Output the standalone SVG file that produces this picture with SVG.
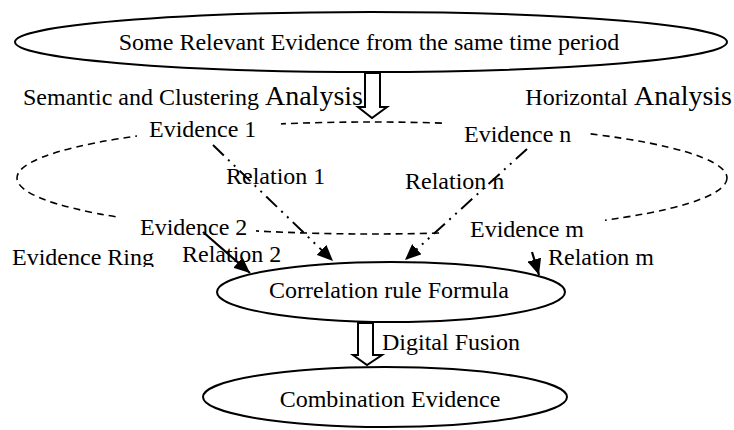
<svg xmlns="http://www.w3.org/2000/svg" width="734" height="430" viewBox="0 0 734 430">
<style>
text{font-family:"Liberation Serif","Times New Roman",serif;font-size:24px;fill:#000}
.big{font-size:28px}
.node{fill:#fff;stroke:#000;stroke-width:2}
.ring{fill:none;stroke:#000;stroke-width:1.6;stroke-dasharray:7 5}
.mask{fill:#fff}
.dd{fill:none;stroke:#000;stroke-width:2;stroke-dasharray:15 6 2 6 2 6}
.solid{fill:none;stroke:#000;stroke-width:2.2}
.hollow{fill:#fff;stroke:#000;stroke-width:2;stroke-linejoin:miter}
</style>
<defs>
<marker id="ah" markerUnits="userSpaceOnUse" markerWidth="18" markerHeight="14" refX="16" refY="7" orient="auto">
<path d="M0,0 L16,7 L0,14 Z" fill="#000"/>
</marker>
<clipPath id="ringclip"><rect x="0" y="230" width="200" height="37"/></clipPath>
</defs>
<g id="source">
<ellipse class="node" cx="371" cy="42" rx="356" ry="30"/>
<text x="369" y="50" text-anchor="middle">Some Relevant Evidence from the same time period</text>
</g>
<g id="ring">
<ellipse class="ring" cx="372" cy="178" rx="355" ry="56"/>
<rect class="mask" x="137" y="110" width="144" height="36"/>
<rect class="mask" x="443" y="110" width="146" height="38"/>
<rect class="mask" x="120" y="206" width="136" height="36"/>
<rect class="mask" x="440" y="208" width="165" height="36"/>
</g>
<g id="labels">
<text x="23" y="105">Semantic and Clustering <tspan class="big">Analysis</tspan></text>
<text x="732" y="105" text-anchor="end">Horizontal <tspan class="big">Analysis</tspan></text>
<text x="12" y="265" clip-path="url(#ringclip)">Evidence Ring</text>
<text x="382" y="350">Digital Fusion</text>
</g>
<g id="evidence1"><text x="149" y="137">Evidence 1</text></g>
<g id="evidencen"><text x="464" y="142">Evidence n</text></g>
<g id="evidence2"><text x="140" y="235">Evidence 2</text></g>
<g id="evidencem"><text x="470" y="237">Evidence m</text></g>
<g id="correlation">
<ellipse class="node" cx="391" cy="292" rx="174" ry="30"/>
<text x="389" y="298" text-anchor="middle">Correlation rule Formula</text>
</g>
<g id="combination">
<ellipse class="node" cx="385" cy="397" rx="182" ry="30"/>
<text x="390" y="407" text-anchor="middle">Combination Evidence</text>
</g>
<g id="relation-labels">
<text x="226" y="184">Relation 1</text>
<text x="405" y="189">Relation n</text>
<text x="182" y="262">Relation 2</text>
<text x="548" y="265">Relation m</text>
</g>
<g id="connectors">
<polygon class="hollow" points="365,73 380,73 380,107 387,107 372,118 358,107 365,107"/>
<polygon class="hollow" points="358,323 373,323 373,355 382,355 367,365 353,355 358,355"/>
<path class="dd" d="M213,145 L333,261" marker-end="url(#ah)"/>
<path class="dd" d="M527,149 L405,260" marker-end="url(#ah)"/>
<path class="solid" d="M203,232 L250,273" marker-end="url(#ah)"/>
<path class="solid" d="M532,252 L539,275" marker-end="url(#ah)"/>
</g>
</svg>
